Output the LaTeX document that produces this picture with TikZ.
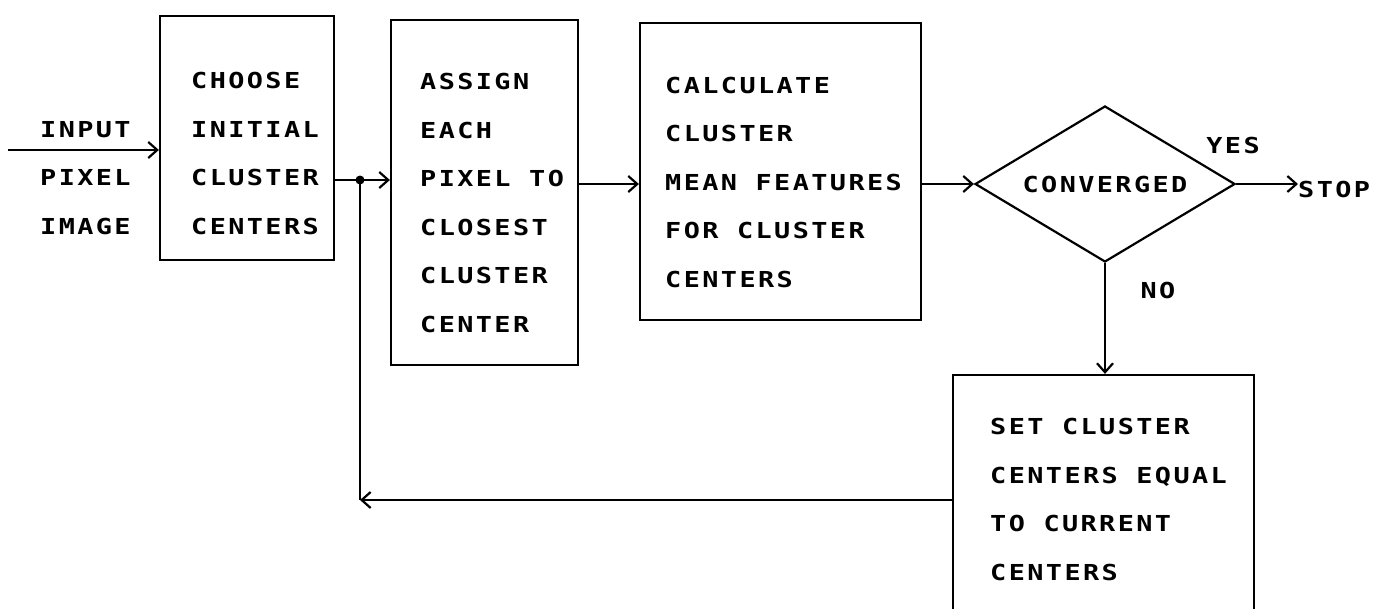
\documentclass[tikz,border=0pt]{standalone}
\usepackage{fontspec}
\usepackage{tikz}
\usetikzlibrary{calc,arrows.meta,shapes.geometric}
\newfontfamily\plotfont[FakeStretch=1.22,LetterSpace=11]{DejaVu Sans Mono}
\tikzset{
	box/.style={draw, line width=2.2pt, inner sep=0pt},
	txt/.style={inner sep=0pt, align=left, font=\plotfont\bfseries\fontsize{22}{48.5}\selectfont},
	flow/.style={line width=2.4pt, -{Straight Barb[length=9pt,width=16pt,line width=2.2pt]}},
	line/.style={line width=2.4pt}
}

\begin{document}
\begin{tikzpicture}[x=1pt, y=-1pt]
		%%%%% START %%%%%
		\useasboundingbox (0, 0) rectangle (1376, 608);
		\clip (0, 0) rectangle (1376, 608);
		
		\node[box, minimum width=174, minimum height=244] (choose) at (247, 138) {};
		\node[box, minimum width=187, minimum height=345] (assign) at (484.5, 192.5) {};
		\node[box, minimum width=281, minimum height=297] (calc) at (780.5, 171.5) {};
		\node[box, minimum width=301, minimum height=275] (setc) at (1103.5, 512.5) {};
		\node[box, diamond, aspect=1.69, minimum width=260, minimum height=156, txt, align=center] (conv) at (1105, 184) {CONVERGED};
		
		% text is anchored at the baseline of its last line
		\node[txt, anchor=base west] (input) at (40, 234) {INPUT\\PIXEL\\IMAGE};
		\node[txt, anchor=base west] (chooseT) at (191, 234) {CHOOSE\\INITIAL\\CLUSTER\\CENTERS};
		\node[txt, anchor=base west] (assignT) at (420, 332) {ASSIGN\\EACH\\PIXEL TO\\CLOSEST\\CLUSTER\\CENTER};
		\node[txt, anchor=base west] (calcT) at (665, 287) {CALCULATE\\CLUSTER\\MEAN FEATURES\\FOR CLUSTER\\CENTERS};
		\node[txt, anchor=base west] (setcT) at (990, 580) {SET CLUSTER\\CENTERS EQUAL\\TO CURRENT\\CENTERS};
		
		\node[txt, anchor=base west] (stop) at (1298, 197) {STOP};
		\node[txt] (yes) at (1233, 145) {YES};
		\node[txt] (no) at (1158, 290) {NO};
		
		\coordinate (in) at (8, 150);
		\coordinate (split) at (360, 180);
		\coordinate (back) at (360, 500);
		
		\draw[flow] (in) -- (choose.west |- in);
		\draw[line] (choose.east |- split) -- (split);
		\draw[flow] (split) -- (assign.west |- split);
		\fill (split) circle (4.5);
		\draw[flow] (assign.east |- conv.west) -- (calc.west |- conv.west);
		\draw[flow] (calc.east |- conv.west) -- (conv.west);
		\draw[flow] (conv.east) -- (stop.west |- conv.east);
		\draw[flow] (conv.south) -- (conv.south |- setc.north);
		\draw[flow] (setc.west |- back) -- (back);
		\draw[line] (back) -- (split);
		
		%%%%% END %%%%%
	\end{tikzpicture}
\end{document}
